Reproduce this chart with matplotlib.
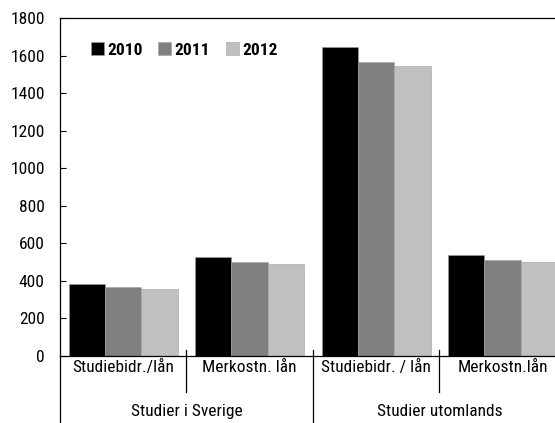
import matplotlib.pyplot as plt
from matplotlib import font_manager
import numpy as np

# data
categories = ['Studiebidr./lån', 'Merkostn. lån', 'Studiebidr. / lån', 'Merkostn.lån']
groups = ['Studier i Sverige', 'Studier utomlands']
years = ['2010', '2011', '2012']
v2010 = [382, 528, 1646, 537]
v2011 = [366, 500, 1568, 510]
v2012 = [359, 492, 1545, 503]
colors = ['#000000', '#808080', '#c0c0c0']

names = {f.name for f in font_manager.fontManager.ttflist}
font = next((f for f in ['Roboto Condensed', 'Archivo Narrow', 'PT Sans Narrow'] if f in names), 'DejaVu Sans')
plt.rcParams['font.family'] = [font, 'DejaVu Sans']

fig = plt.figure(figsize=(5.55, 4.23), dpi=100)
ax = fig.add_axes([0.108, 0.1584, 0.9117, 0.7983])

x = np.arange(len(categories)) + 0.5
w = 0.288
for k, (vals, yr) in enumerate(zip([v2010, v2011, v2012], years)):
    ax.bar(x + (k - 1) * w, vals, w, color=colors[k], label=yr,
           edgecolor='#a0a0a0', linewidth=0.4)

ax.set_xlim(0, len(categories))
ax.set_ylim(0, 1800)
ax.set_yticks(range(0, 1801, 200))
ax.tick_params(axis='y', direction='in', length=4.5, labelsize=12.5, pad=11)
ax.set_xticks([])
ax.spines['right'].set_visible(False)
for s in ['top', 'left', 'bottom']:
    ax.spines[s].set_linewidth(0.9)

tr = ax.get_xaxis_transform()
# category separators and labels
for i in range(len(categories) + 1):
    bottom = -0.2 if i % 2 == 0 else -0.107
    ax.plot([i, i], [0.018 if i > 0 else 0, bottom], color='black', lw=0.9,
            transform=tr, clip_on=False)
for i, c in enumerate(categories):
    ax.text(i + 0.5, -0.035, c, transform=tr, ha='center', va='center', fontsize=12.5)
for j, g in enumerate(groups):
    ax.text(2 * j + 1, -0.163, g, transform=tr, ha='center', va='center', fontsize=12.5)

ax.legend(loc='upper left', bbox_to_anchor=(0.03, 0.975), ncol=3, frameon=False,
          handlelength=0.75, handleheight=0.75, handletextpad=0.2, columnspacing=0.9,
          prop={'weight': 'bold', 'size': 12.5})

fig.savefig('out.png', dpi=100)
